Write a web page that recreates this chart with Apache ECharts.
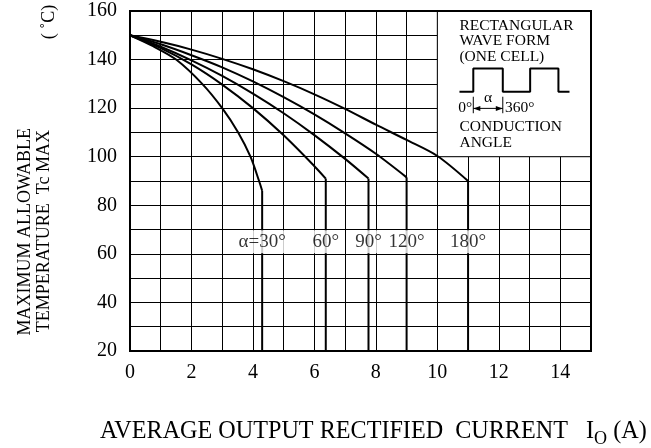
<!DOCTYPE html>
<html>
<head>
<meta charset="utf-8" />
<title>Tc max vs Io</title>
<script src="https://cdn.jsdelivr.net/npm/echarts@6/dist/echarts.min.js"></script>
<style>
  html, body { margin: 0; padding: 0; background: #fff; }
  #main { width: 651px; height: 448px; }
</style>
</head>
<body>
<div id="main"></div>
<script type="text/javascript">
// values: current (A) and case temperature (deg C)
const c30X = [0, 0.75, 1.5, 2.35, 3.0, 3.52, 3.92, 4.2, 4.3];
const c30Y = [150, 145.5, 140, 130, 120, 110, 100, 90, 86];
const c60X = [0, 1, 2, 3, 4, 5, 6, 6.37];
const c60Y = [150, 144.7, 138, 129.7, 120, 108.8, 96.1, 91];
const c90X = [0, 1, 2, 3, 4, 5, 6, 7, 7.76];
const c90Y = [150, 145.3, 139.7, 133.3, 126, 117.9, 108.9, 99.1, 91];
const c120X = [0, 1, 2, 3, 4, 5, 6, 7, 8, 9];
const c120Y = [150, 146.3, 141.8, 136.8, 131, 124.5, 117.4, 109.6, 101.2, 91.5];
const c180X = [0, 1, 2, 3, 4, 5, 6, 7, 8, 9, 10, 11];
const c180Y = [150, 147.3, 144.1, 140.3, 136, 131.1, 125.7, 119.7, 113.2, 106.9, 100.3, 90];
const curveNames = ['α=30°', '60°', '90°', '120°', '180°'];
const dropTo = 20;      // the vertical part of each curve ends on the x axis
const labelTemp = 65;   // row where the angle labels sit

// inset: rectangular wave form (in axis units)
const waveX = [10.72, 11.17, 11.17, 12.13, 12.13, 13.02, 13.02, 13.94, 13.94, 14.3];
const waveY = [126.7, 126.7, 136.3, 136.3, 126.7, 126.7, 136.3, 136.3, 126.7, 126.7];
const insetBox = [[10, 100], [15, 160]];

const FONT = '"Liberation Serif", "DejaVu Serif", serif';
const L = 130, T = 11, W = 461, H = 340;

let curves = [[c30X, c30Y], [c60X, c60Y], [c90X, c90Y], [c120X, c120Y], [c180X, c180Y]];
let series = [];

series.push({
    type: 'line', name: 'box', data: [], z: 1, silent: true,
    markArea: {
        silent: true,
        itemStyle: { color: '#fff', borderColor: '#000', borderWidth: 1 },
        data: [[{ coord: insetBox[0] }, { coord: insetBox[1] }]]
    }
});
series.push({
    type: 'line', name: 'wave', z: 3, symbol: 'none', silent: true,
    lineStyle: { color: '#000', width: 2 },
    data: waveX.map((x, i) => [x, waveY[i]])
});

let labelData = [];
curves.forEach(function (c, k) {
    let xs = c[0], ys = c[1];
    let n = xs.length - 1;
    series.push({
        type: 'line', z: 4, symbol: 'none', smooth: 0.3, silent: true,
        lineStyle: { color: '#000', width: 2 },
        data: xs.map((x, i) => [x, ys[i]])
    });
    series.push({
        type: 'line', z: 4, symbol: 'none', silent: true,
        lineStyle: { color: '#000', width: 2 },
        data: [[xs[n], ys[n]], [xs[n], dropTo]]
    });
    labelData.push([xs[n], labelTemp, curveNames[k]]);
});

series.push({
    type: 'scatter', z: 10, symbolSize: 0, silent: true,
    data: labelData,
    label: {
        show: true, position: 'inside',
        formatter: p => p.data[2],
        color: '#000', fontFamily: FONT, fontSize: 19,
        backgroundColor: '#fff', padding: [1, 3], lineHeight: 21
    }
});

let option = {
    animation: false,
    backgroundColor: '#fff',
    grid: { left: L, top: T, width: W, height: H, show: false },
    xAxis: {
        type: 'value', min: 0, max: 15, interval: 1,
        axisLine: { show: false }, axisTick: { show: false },
        axisLabel: {
            color: '#000', fontFamily: FONT, fontSize: 20, margin: 12,
            formatter: v => (v % 2 === 0 && v < 15) ? String(v) : ''
        },
        splitLine: { show: true, lineStyle: { color: '#000', width: 1 } }
    },
    yAxis: {
        type: 'value', min: 20, max: 160, interval: 10,
        axisLine: { show: false }, axisTick: { show: false },
        axisLabel: {
            color: '#000', fontFamily: FONT, fontSize: 20, margin: 13,
            formatter: v => (v % 20 === 0) ? String(v) : ''
        },
        splitLine: { show: true, lineStyle: { color: '#000', width: 1 } }
    },
    series: series
};

let myChart = echarts.init(document.getElementById('main'), null, { renderer: 'canvas' });
myChart.setOption(option);

// x axis title: three pieces (subscript O), fitted between two x positions
let ctx = document.createElement('canvas').getContext('2d');
function textW(s, size) { ctx.font = size + 'px ' + FONT; return ctx.measureText(s).width; }

let t1 = 'AVERAGE OUTPUT RECTIFIED  CURRENT   I', t2 = 'O', t3 = ' (A)';
let titleLeft = 100, titleRight = 647;
let fs = 20;
let unit = textW(t1, fs) + textW(t2, fs * 0.75) + textW(t3, fs);
fs = fs * (titleRight - titleLeft) / unit;
let w1 = textW(t1, fs), w2 = textW(t2, fs * 0.75);
let tx = titleLeft, ty = 432;

function px(x, y) { return myChart.convertToPixel({ gridIndex: 0 }, [x, y]); }
function txt(s, x, y, size, align) {
    let p = px(x, y);
    return {
        type: 'text', x: p[0], y: p[1], z: 20, silent: true,
        style: { text: s, fill: '#000', font: size + 'px ' + FONT, align: align, verticalAlign: 'middle' }
    };
}

let tk1 = px(11.17, 124.7), tk1b = px(11.17, 117.9);
let tk2 = px(12.13, 124.7), tk2b = px(12.13, 117.9);
let ar1 = px(11.17, 119.9), ar2 = px(12.13, 119.9);

let graphics = [
    { type: 'rect', z: 100, silent: true, shape: { x: L, y: T, width: W, height: H },
      style: { fill: null, stroke: '#000', lineWidth: 2 } },
    // y axis name
    { type: 'text', x: 25, y: 128, rotation: Math.PI / 2, silent: true,
      style: { text: 'MAXIMUM ALLOWABLE', fill: '#000', font: '18px ' + FONT, align: 'right', verticalAlign: 'middle' } },
    { type: 'text', x: 44, y: 130, rotation: Math.PI / 2, silent: true,
      style: { text: 'TEMPERATURE  Tc MAX', fill: '#000', font: '18px ' + FONT, align: 'right', verticalAlign: 'middle' } },
    { type: 'text', x: 49, y: 22, rotation: Math.PI / 2, silent: true,
      style: { text: '( ˚C)', fill: '#000', font: '18px ' + FONT, align: 'center', verticalAlign: 'middle' } },
    // x axis name
    { type: 'text', x: tx, y: ty, silent: true,
      style: { text: t1, fill: '#000', font: fs + 'px ' + FONT, align: 'left', verticalAlign: 'middle' } },
    { type: 'text', x: tx + w1, y: ty + fs * 0.3, silent: true,
      style: { text: t2, fill: '#000', font: (fs * 0.75) + 'px ' + FONT, align: 'left', verticalAlign: 'middle' } },
    { type: 'text', x: tx + w1 + w2, y: ty, silent: true,
      style: { text: t3, fill: '#000', font: fs + 'px ' + FONT, align: 'left', verticalAlign: 'middle' } },
    // inset texts
    txt('RECTANGULAR', 10.72, 153.8, 15.5, 'left'),
    txt('WAVE FORM', 10.72, 147.7, 15.5, 'left'),
    txt('(ONE CELL)', 10.72, 141.1, 15.5, 'left'),
    txt('0°', 10.68, 119.9, 15.5, 'left'),
    txt('α', 11.65, 124.3, 15.5, 'center'),
    txt('360°', 12.2, 119.9, 15.5, 'left'),
    txt('CONDUCTION', 10.72, 112.3, 15.5, 'left'),
    txt('ANGLE', 10.72, 105.5, 15.5, 'left'),
    // inset ticks and arrow
    { type: 'line', z: 20, silent: true, shape: { x1: tk1[0], y1: tk1[1], x2: tk1b[0], y2: tk1b[1] }, style: { stroke: '#000', lineWidth: 1 } },
    { type: 'line', z: 20, silent: true, shape: { x1: tk2[0], y1: tk2[1], x2: tk2b[0], y2: tk2b[1] }, style: { stroke: '#000', lineWidth: 1 } },
    { type: 'line', z: 20, silent: true, shape: { x1: ar1[0], y1: ar1[1], x2: ar2[0], y2: ar2[1] }, style: { stroke: '#000', lineWidth: 1 } },
    { type: 'polygon', z: 20, silent: true, shape: { points: [[ar1[0], ar1[1]], [ar1[0] + 7, ar1[1] - 2.5], [ar1[0] + 7, ar1[1] + 2.5]] }, style: { fill: '#000' } },
    { type: 'polygon', z: 20, silent: true, shape: { points: [[ar2[0], ar2[1]], [ar2[0] - 7, ar2[1] - 2.5], [ar2[0] - 7, ar2[1] + 2.5]] }, style: { fill: '#000' } }
];

myChart.setOption({ graphic: graphics });
</script>
</body>
</html>
